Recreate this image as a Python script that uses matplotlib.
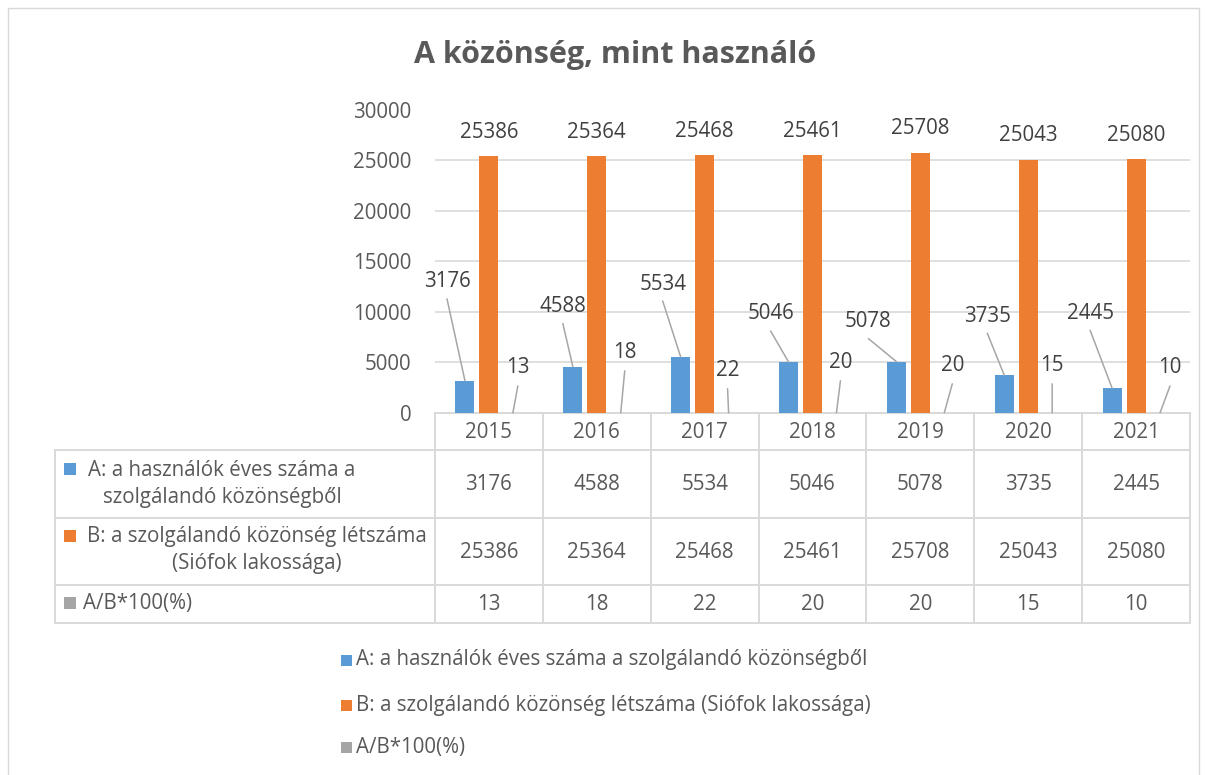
import matplotlib
matplotlib.use("Agg")
import matplotlib.pyplot as plt
from matplotlib.patches import Rectangle
import numpy as np

# ---------------- data ----------------
years = ["2015", "2016", "2017", "2018", "2019", "2020", "2021"]
series_names = [
    "A: a használók éves száma a szolgálandó közönségből",
    "B: a szolgálandó közönség létszáma (Siófok lakossága)",
    "A/B*100(%)",
]
table_row_labels = [
    "A: a használók éves száma a\nszolgálandó közönségből",
    "B: a szolgálandó közönség létszáma\n(Siófok lakossága)",
    "A/B*100(%)",
]
users = [3176, 4588, 5534, 5046, 5078, 3735, 2445]
population = [25386, 25364, 25468, 25461, 25708, 25043, 25080]
ratio = [13, 18, 22, 20, 20, 15, 10]
yticks = [0, 5000, 10000, 15000, 20000, 25000, 30000]
title = "A közönség, mint használó"

# ---------------- style / layout ----------------
colors = ["#5B9BD5", "#ED7D31", "#A5A5A5"]
txt = "#595959"
lbl = "#404040"
grid = "#D9D9D9"
FONT = "Open Sans"
plt.rcParams["font.family"] = [FONT, "DejaVu Sans"]
FS = 14.8

# label offsets in pixels (dx right, dy up) relative to bar top
blue_off = [(-18, 99), (-10, 60), (-18, 73), (-18, 48), (-28, 40), (-17, 59), (-22, 75)]
gray_off = [(5, 45), (4, 60), (-1, 42), (4, 50), (8, 47), (0, 47), (10, 45)]

W, H = 1206, 775
fig = plt.figure(figsize=(W / 100, H / 100), dpi=100)

# overlay in pixel coordinates
ov = fig.add_axes([0, 0, 1, 1], zorder=0)
ov.set_xlim(0, W)
ov.set_ylim(H, 0)
ov.axis("off")

# plot area
px0, px1, py0, py1 = 435, 1190, 109.5, 413
ax = fig.add_axes([px0 / W, 1 - py1 / H, (px1 - px0) / W, (py1 - py0) / H], zorder=2)
ax.patch.set_alpha(0)
n = len(years)
x = np.arange(n)
bw = 0.176
off = 0.222
ax.bar(x - off, users, bw, color=colors[0], zorder=3)
ax.bar(x, population, bw, color=colors[1], zorder=3)
ax.bar(x + off, ratio, bw, color=colors[2], zorder=3)
ax.set_xlim(-0.5, n - 0.5)
ax.set_ylim(0, 30000)
ax.set_yticks(yticks)
ax.set_yticklabels([str(t) for t in yticks], fontsize=FS, color=txt)
ax.tick_params(axis="y", length=0, pad=17)
ax.set_xticks([])
for s in ax.spines.values():
    s.set_visible(False)
ax.yaxis.grid(True, color=grid, lw=1.2, zorder=0)
ax.set_axisbelow(True)

# data labels
for i in range(n):
    # orange: above bar
    ax.annotate(str(population[i]), xy=(x[i], population[i]), xytext=(0, 24),
                textcoords="offset pixels", ha="center", va="center",
                fontsize=FS, color=lbl, zorder=5)
    # blue with leader line
    dx, dy = blue_off[i]
    ax.annotate(str(users[i]), xy=(x[i] - off, users[i]), xytext=(dx, dy),
                textcoords="offset pixels", ha="center", va="center",
                fontsize=FS, color=lbl, zorder=5)
    ax.annotate("", xy=(x[i] - off, users[i]), xytext=(dx, dy - 17),
                textcoords="offset pixels",
                arrowprops=dict(arrowstyle="-", color="#A6A6A6", lw=1.1,
                                shrinkA=0, shrinkB=0), zorder=4)
    # gray with leader line
    dx, dy = gray_off[i]
    ax.annotate(str(ratio[i]), xy=(x[i] + off, ratio[i]), xytext=(dx, dy),
                textcoords="offset pixels", ha="center", va="center",
                fontsize=FS, color=lbl, zorder=5)
    ax.annotate("", xy=(x[i] + off, ratio[i]), xytext=(dx, dy - 18),
                textcoords="offset pixels",
                arrowprops=dict(arrowstyle="-", color="#A6A6A6", lw=1.1,
                                shrinkA=0, shrinkB=0), zorder=4)

# title
ov.text(615, 55, title, ha="center", va="center", fontsize=22,
        fontweight="bold", color=txt)

# chart border
ov.add_patch(Rectangle((8, 8), 1191, 790, fill=False, ec=grid, lw=1.0))

# data table
tl = 55
rows_y = [413, 450, 518, 585, 623]
colw = (px1 - px0) / n
lw_t = 1.4
ov.plot([px0, px1], [rows_y[0], rows_y[0]], color=grid, lw=lw_t)
for yy in rows_y[1:]:
    ov.plot([tl, px1], [yy, yy], color=grid, lw=lw_t)
ov.plot([tl, tl], [rows_y[1], rows_y[-1]], color=grid, lw=lw_t)
for j in range(n + 1):
    xx = px0 + j * colw
    ov.plot([xx, xx], [rows_y[0], rows_y[-1]], color=grid, lw=lw_t)

vals = [users, population, ratio]
row_val_y = [484, 552, 605]
for j in range(n):
    cx = px0 + (j + 0.5) * colw
    ov.text(cx, 432, years[j], ha="center", va="center", fontsize=FS, color=txt)
    for r in range(3):
        ov.text(cx, row_val_y[r], str(vals[r][j]), ha="center", va="center",
                fontsize=FS, color=txt)

# row headers
sq = 12
label_pos = [(222, 484, "center"), (257, 550, "center"), (83, 603, "left")]
square_y = [469, 536, 603]
for r in range(3):
    lx, ly, ha = label_pos[r]
    ov.text(lx, ly, table_row_labels[r], ha=ha, va="center", multialignment="center",
            fontsize=FS, color=txt, linespacing=1.4)
    ov.add_patch(Rectangle((64, square_y[r] - sq / 2), sq, sq, color=colors[r], lw=0))

# legend
leg_y = [660, 705, 747]
for r in range(3):
    ov.add_patch(Rectangle((341, leg_y[r] - 5.5), 11, 11, color=colors[r], lw=0))
    ov.text(356, leg_y[r], series_names[r], ha="left", va="center",
            fontsize=FS, color=txt)

fig.savefig("out.png", dpi=100)
